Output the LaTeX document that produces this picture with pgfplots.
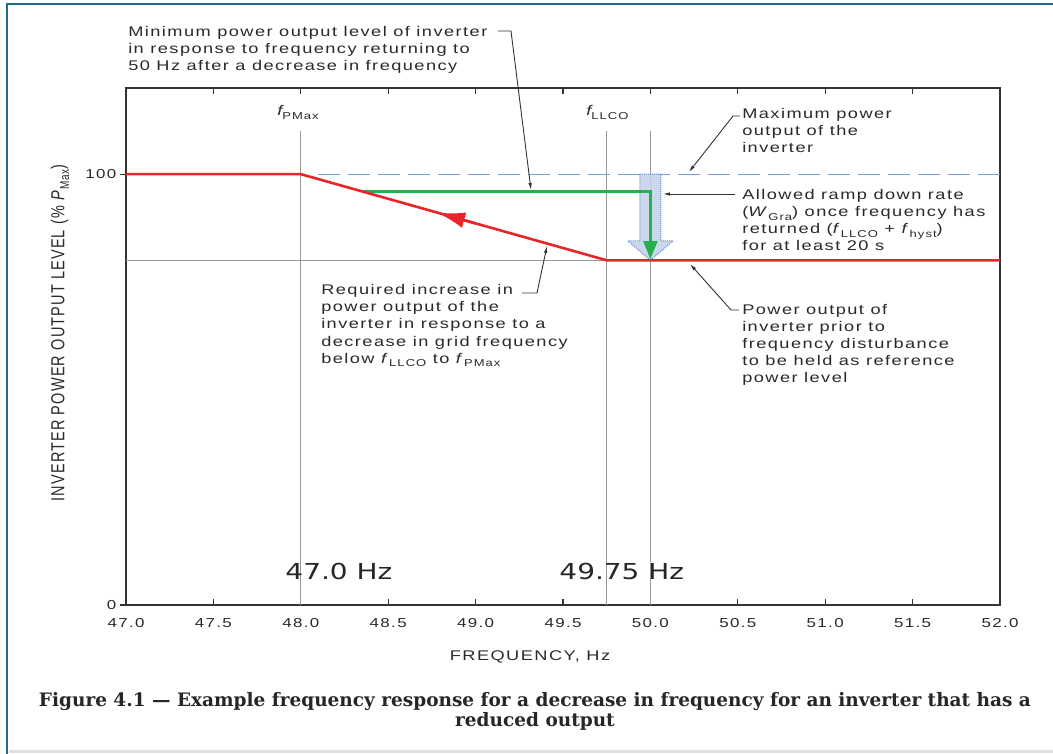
\documentclass[border=0pt]{standalone}
\usepackage{fontspec}
\usepackage{pgfplots}
\pgfplotsset{compat=1.18}
\usetikzlibrary{arrows.meta}
\setmainfont{Liberation Sans}
\newfontfamily\annot[LetterSpace=8]{Liberation Sans}
\newfontfamily\dv{DejaVu Sans}
\newfontfamily\capfont{DejaVu Serif}
\definecolor{txt}{HTML}{2A2A2A}
\definecolor{redl}{HTML}{E8262A}
\definecolor{greenl}{HTML}{22B14C}
\definecolor{bluel}{HTML}{6FA3D8}
\definecolor{arrowfill}{HTML}{C4D1EC}
\definecolor{arrowdraw}{HTML}{5E8FD8}
\definecolor{framec}{HTML}{1F6A8F}
\newcommand\an{\annot\fontsize{14}{17.2}\selectfont}
\newcommand\sub[1]{\raisebox{-0.25em}{\fontsize{10}{10}\selectfont #1}}
\begin{document}
\begin{tikzpicture}[x=1pt,y=1pt]
\useasboundingbox (0,0) rectangle (1053,754);
\fill[white] (0,0) rectangle (1053,754);
% frame
\draw[framec, line width=2.5pt] (1053,750) -- (7,750) -- (7,0);
\draw[black!12, line width=3pt] (8.5,2) -- (1053,2);
\begin{axis}[
  at={(126pt,149pt)}, anchor=south west,
  scale only axis, width=874pt, height=517pt,
  xmin=47, xmax=52, ymin=0, ymax=120,
  axis line style={draw=black!80, line width=1.8pt},
  xtick={47,47.5,...,52}, ytick={0,100},
  tick align=inside, major tick length=6pt,
  tick style={black!80, line width=1.2pt},
  ytick style={xshift=-6pt},
  xticklabel style={font=\annot\fontsize{13}{13}\selectfont, text=txt, xscale=1.3, yshift=-10pt,
     /pgf/number format/fixed, /pgf/number format/fixed zerofill, /pgf/number format/precision=1},
  yticklabel style={font=\annot\fontsize{13}{13}\selectfont, text=txt, xscale=1.3, xshift=-4pt},
  /pgf/number format/assume math mode=true,
  clip=false,
]
% gray reference lines
\addplot[black!40, line width=0.8pt] coordinates {(47,80) (49.75,80)};
\addplot[black!40, line width=0.8pt] coordinates {(48,0) (48,110)};
\addplot[black!40, line width=0.8pt] coordinates {(49.75,0) (49.75,110)};
\addplot[black!40, line width=0.8pt] coordinates {(50,0) (50,110)};
% max power dashed
\addplot[bluel, line width=1.3pt, dash pattern=on 22pt off 8pt] coordinates {(48.1,100) (52,100)};
% wide ramp arrow
\addplot[fill=arrowfill, fill opacity=0.85, draw=arrowdraw, densely dotted, line width=1pt] coordinates {
 (49.94,100) (50.06,100) (50.06,84.5) (50.129,84.5) (50,80) (49.871,84.5) (49.94,84.5)} -- cycle;
% green min level
\addplot[greenl, line width=2.4pt, line join=miter, -{Triangle[length=18pt,width=14pt]}] coordinates {(48.35,96) (50,96) (50,80.3)};
% red response
\addplot[redl, line width=2.6pt] coordinates {(47,100) (48,100) (49.75,80) (52,80)};
\addplot[redl, line width=2.6pt, -{Latex[length=28pt,width=16pt]}] coordinates {(49.0,88.57) (48.78,91.09)};
\end{axis}
% big frequency labels
\node[font=\dv\fontsize{22}{22}\selectfont, text=black!85, xscale=1.27, anchor=base west] at (281,174) {47.0 Hz};
\node[font=\dv\fontsize{22}{22}\selectfont, text=black!85, xscale=1.27, anchor=base west] at (555,174) {49.75 Hz};
% f labels
\node[anchor=base west, text=txt, xscale=1.3, inner sep=0] at (277,638) {\an\itshape f\upshape\sub{PMax}};
\node[anchor=base west, text=txt, xscale=1.3, inner sep=0] at (586,638) {\an\itshape f\upshape\sub{LLCO}};
% axis labels
\node[anchor=center, text=txt, xscale=1.3, inner sep=0] at (530,97) {\an FREQUENCY, Hz};
\node[anchor=center, text=txt, rotate=90, yscale=1.3, inner sep=0] at (60,421) {\annot\fontsize{14.5}{17}\selectfont INVERTER POWER OUTPUT LEVEL (\% \textit{P}\sub{Max})};
% annotations (anchor = baseline of last line)
\begin{scope}[every node/.style={anchor=base west, align=left, text=txt, xscale=1.3, inner sep=0, font=\an}]
\node at (128,683) {Minimum power output level of inverter\\ in response to frequency returning to\\ 50 Hz after a decrease in frequency};
\node at (742,601) {Maximum power\\ output of the\\ inverter};
\node at (742,503) {Allowed ramp down rate\\ (\textit{W}\sub{Gra}) once frequency has\\ returned (\textit{f}\sub{LLCO} + \textit{f}\sub{hyst})\\ for at least 20 s};
\node at (742,371) {Power output of\\ inverter prior to\\ frequency disturbance\\ to be held as reference\\ power level};
\node at (321,390.7) {Required increase in\\ power output of the\\ inverter in response to a\\ decrease in grid frequency\\ below \textit{f}\sub{LLCO} to \textit{f}\sub{PMax}};
\end{scope}
% leader lines
\begin{scope}[black!80, line width=0.9pt, -{Latex[length=7pt,width=3.5pt]}]
\draw (498,723) -- (511,723) -- (531,564);
\draw (740,638) -- (733,638) -- (689,582);
\draw (735,560) -- (663,560);
\draw (739,444) -- (731,444) -- (690,490);
\draw (522,461) -- (537,461) -- (547,508);
\end{scope}
% caption
\node[anchor=base, font=\capfont\bfseries\fontsize{18.5}{20}\selectfont, text=black!85] at (535,47) {Figure 4.1 — Example frequency response for a decrease in frequency for an inverter that has a};
\node[anchor=base, font=\capfont\bfseries\fontsize{18.5}{20}\selectfont, text=black!85] at (535,27) {reduced output};
\end{tikzpicture}
\end{document}
